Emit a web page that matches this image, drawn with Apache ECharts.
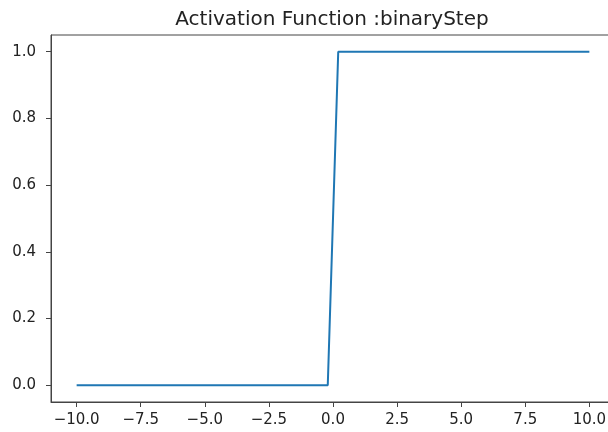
<!DOCTYPE html>
<html>
<head>
<meta charset="utf-8">
<script src="https://cdn.jsdelivr.net/npm/echarts@6/dist/echarts.min.js"></script>
<style>html,body{margin:0;padding:0;background:#fff;overflow:hidden;width:608px;height:432px;}#c{width:620px;height:432px;}</style>
</head>
<body>
<div id="c"></div>
<script>
const xValues = [-10, -0.204, 0.204, 10];
const yValues = [0, 0, 1, 1];
const xTicks = [-10, -7.5, -5, -2.5, 0, 2.5, 5, 7.5, 10];
const yTicks = [0, 0.2, 0.4, 0.6, 0.8, 1.0];
const titleText = 'Activation Function :binaryStep';

const fmt = v => (v < 0 ? '\u2212' : '') + Math.abs(v).toFixed(1);
const chart = echarts.init(document.getElementById('c'));
chart.setOption({
  animation: false,
  backgroundColor: '#fff',
  title: {
    text: titleText, left: 327, top: 5, textAlign: 'center',
    textStyle: { fontFamily: 'DejaVu Sans', fontSize: 20, fontWeight: 'normal', color: '#222' }
  },
  grid: { left: 51, top: 35, width: 564, height: 367, show: true, borderColor: '#444', borderWidth: 1, backgroundColor: 'transparent' },
  xAxis: {
    type: 'value', min: -11, max: 11,
    axisLine: { show: true, onZero: false, lineStyle: { color: '#444', width: 1 } },
    axisTick: { show: true, customValues: xTicks, length: 5, lineStyle: { color: '#444' } },
    axisLabel: { customValues: xTicks, formatter: fmt, margin: 11, fontFamily: 'DejaVu Sans', fontSize: 15, color: '#222' },
    splitLine: { show: false }
  },
  yAxis: {
    type: 'value', min: -0.05, max: 1.05,
    axisLine: { show: true, onZero: false, lineStyle: { color: '#444', width: 1 } },
    axisTick: { show: true, customValues: yTicks, length: 5, lineStyle: { color: '#444' } },
    axisLabel: { customValues: yTicks, formatter: v => v.toFixed(1), margin: 15, fontFamily: 'DejaVu Sans', fontSize: 15, color: '#222' },
    splitLine: { show: false }
  },
  series: [{
    type: 'line', symbol: 'none',
    data: xValues.map((x, i) => [x, yValues[i]]),
    lineStyle: { color: '#1f77b4', width: 2 }
  }]
});
</script>
</body>
</html>
